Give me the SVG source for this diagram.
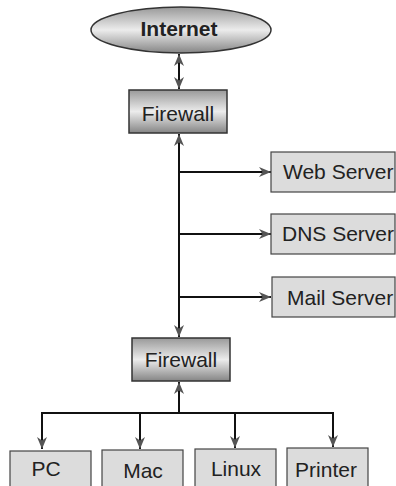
<svg xmlns="http://www.w3.org/2000/svg" width="396" height="486" viewBox="0 0 396 486">
<defs>
<linearGradient id="metal" x1="0" y1="0" x2="0" y2="1">
<stop offset="0" stop-color="#999"/>
<stop offset="0.5" stop-color="#ececec"/>
<stop offset="1" stop-color="#858585"/>
</linearGradient>
<marker id="ah" viewBox="0 0 12 10" refX="12" refY="5" markerWidth="12" markerHeight="10" markerUnits="userSpaceOnUse" orient="auto-start-reverse">
<path d="M0,0 L12,5 L0,10 L3.5,5 z" fill="#555"/>
</marker>
<style>
.metal{fill:url(#metal);stroke:#333;stroke-width:1.5}
.box{fill:#dcdcdc;stroke:#444;stroke-width:1.2}
.t{font-family:"Liberation Sans",Arial,sans-serif;font-size:21px;fill:#222}
.b{font-weight:bold}
.c{fill:none;stroke:#111;stroke-width:2}
</style>
</defs>
<g id="connectors">
<line class="c" x1="179" y1="54" x2="179" y2="89" marker-start="url(#ah)" marker-end="url(#ah)"/>
<line class="c" x1="179" y1="134" x2="179" y2="337" marker-start="url(#ah)" marker-end="url(#ah)"/>
<line class="c" x1="179" y1="172" x2="271" y2="172" marker-end="url(#ah)"/>
<line class="c" x1="179" y1="234" x2="271" y2="234" marker-end="url(#ah)"/>
<line class="c" x1="179" y1="297" x2="271" y2="297" marker-end="url(#ah)"/>
<line class="c" x1="179" y1="413" x2="179" y2="382" marker-end="url(#ah)"/>
<line class="c" x1="41" y1="413" x2="334" y2="413"/>
<line class="c" x1="42" y1="412" x2="42" y2="449" marker-end="url(#ah)"/>
<line class="c" x1="140" y1="412" x2="140" y2="449" marker-end="url(#ah)"/>
<line class="c" x1="235" y1="412" x2="235" y2="448" marker-end="url(#ah)"/>
<line class="c" x1="333" y1="412" x2="333" y2="447" marker-end="url(#ah)"/>
</g>
<g id="internet">
<ellipse class="metal" cx="181" cy="30" rx="90" ry="23"/>
<text class="t b" x="179" y="36" text-anchor="middle">Internet</text>
</g>
<g id="firewall1">
<rect class="metal" x="129" y="90" width="98" height="43"/>
<text class="t" x="178" y="121" text-anchor="middle">Firewall</text>
</g>
<g id="webserver">
<rect class="box" x="271" y="152" width="124" height="40"/>
<text class="t" x="283" y="179">Web Server</text>
</g>
<g id="dnsserver">
<rect class="box" x="271" y="214" width="124" height="40"/>
<text class="t" x="282" y="241">DNS Server</text>
</g>
<g id="mailserver">
<rect class="box" x="272" y="277" width="123" height="40"/>
<text class="t" x="287" y="305">Mail Server</text>
</g>
<g id="firewall2">
<rect class="metal" x="132" y="338" width="98" height="43"/>
<text class="t" x="181" y="367" text-anchor="middle">Firewall</text>
</g>
<g id="pc">
<rect class="box" x="10" y="451" width="81" height="40"/>
<text class="t" x="46" y="476" text-anchor="middle">PC</text>
</g>
<g id="mac">
<rect class="box" x="102" y="450" width="81" height="40"/>
<text class="t" x="143" y="478" text-anchor="middle">Mac</text>
</g>
<g id="linux">
<rect class="box" x="195" y="449" width="81" height="40"/>
<text class="t" x="236" y="476" text-anchor="middle">Linux</text>
</g>
<g id="printer">
<rect class="box" x="287" y="448" width="81" height="40"/>
<text class="t" x="326" y="477" text-anchor="middle">Printer</text>
</g>
</svg>
